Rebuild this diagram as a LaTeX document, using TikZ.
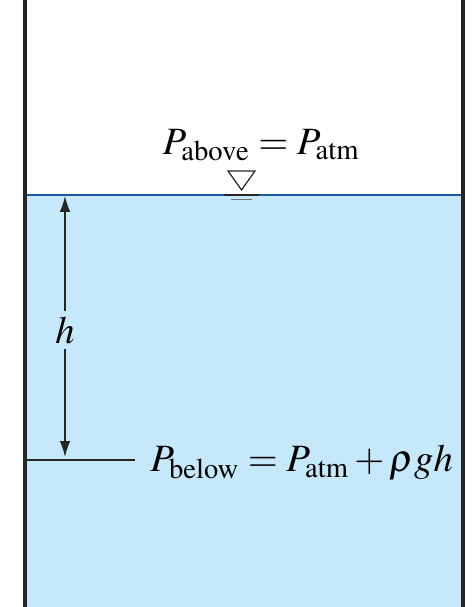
\documentclass[tikz,border=0pt]{standalone}
\usepackage{mathptmx}
\usetikzlibrary{arrows.meta,positioning}
\definecolor{water}{RGB}{197,232,250}
\definecolor{surfblue}{RGB}{28,88,160}

\begin{document}
\begin{tikzpicture}[x=0.02cm, y=-0.02cm, font=\fontsize{22}{26}\selectfont,
  wall/.style={line width=2.3pt, black!85},
  surface/.style={surfblue, line width=1.5pt},
  depth/.style={black!85, line width=0.9pt, -{Latex[length=9pt, width=6pt]}},
  lvl/.style={black!85, line width=0.9pt}]
  \useasboundingbox (0,0) rectangle (475,607);
  % water body and free surface
  \fill[water] (25,195) rectangle (463,607);
  \coordinate (sl) at (25,195);
  \coordinate (sr) at (463,195);
  \draw[surface] (sl) -- (sr);
  % tank walls
  \draw[wall] (25,0) -- (25,607);
  \draw[wall] (463,0) -- (463,607);
  % free-surface symbol
  \draw[black!85, line width=0.7pt] (228,171) -- (255,171) -- (241.5,190) -- cycle;
  \draw[black!85, line width=0.9pt] (224,195) -- (259,195);
  \draw[black!55, line width=0.9pt] (231,199.5) -- (252,199.5);
  % pressure labels
  \node (pabove) at (261,145) {$P_{\mathrm{above}} = P_{\mathrm{atm}}$};
  \coordinate (lvlstart) at (25,460);
  \coordinate (lvlend) at (135,460);
  \draw[lvl] (lvlstart) -- (lvlend);
  \node[anchor=west, inner sep=0pt] (pbelow) at (150,463) {$P_{\mathrm{below}} = P_{\mathrm{atm}} + \rho g h$};
  % depth arrows
  \coordinate (top) at (65,196);
  \coordinate (bot) at (65,457);
  \node[fill=water, inner sep=3pt] (h) at (65,330) {$h$};
  \draw[depth] (h.north) -- (top);
  \draw[depth] (h.south) -- (bot);
\end{tikzpicture}
\end{document}
